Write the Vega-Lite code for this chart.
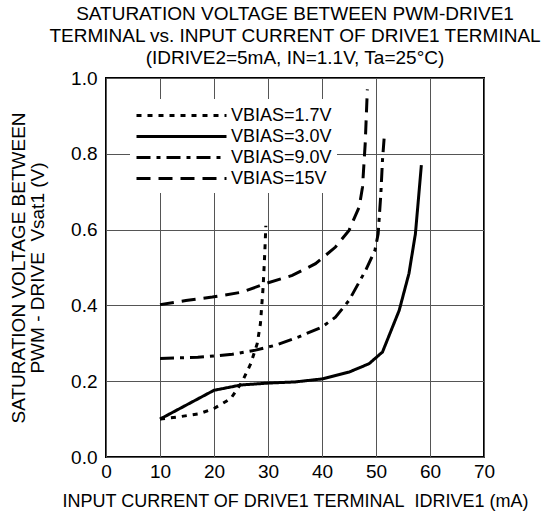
{
  "$schema": "https://vega.github.io/schema/vega-lite/v6.json",
  "width": 378,
  "height": 379,
  "autosize": {"type": "none"},
  "padding": {"left": 106, "top": 78, "right": 65, "bottom": 58},
  "background": "white",
  "config": {
    "font": "Liberation Sans",
    "view": {"stroke": "black", "strokeWidth": 2},
    "axis": {"labelColor": "black", "titleColor": "black", "labelFont": "Liberation Sans", "titleFont": "Liberation Sans", "titleFontWeight": "normal", "gridColor": "#555", "gridWidth": 1, "gridOpacity": 1, "domain": false, "ticks": false, "labelFlush": false}
  },
  "title": {
    "text": ["SATURATION VOLTAGE BETWEEN PWM-DRIVE1", "TERMINAL vs. INPUT CURRENT OF DRIVE1 TERMINAL", "(IDRIVE2=5mA, IN=1.1V, Ta=25°C)"],
    "anchor": "middle",
    "fontSize": 19,
    "fontWeight": "normal",
    "font": "Liberation Sans",
    "color": "black",
    "lineHeight": 22,
    "offset": 1
  },
  "data": {"values": [
    {"s": "VBIAS=1.7V", "I": 10, "V": 0.10},
    {"s": "VBIAS=1.7V", "I": 13.5, "V": 0.106},
    {"s": "VBIAS=1.7V", "I": 17.2, "V": 0.114},
    {"s": "VBIAS=1.7V", "I": 20, "V": 0.128},
    {"s": "VBIAS=1.7V", "I": 23.1, "V": 0.154},
    {"s": "VBIAS=1.7V", "I": 25.2, "V": 0.198},
    {"s": "VBIAS=1.7V", "I": 26.8, "V": 0.246},
    {"s": "VBIAS=1.7V", "I": 28, "V": 0.299},
    {"s": "VBIAS=1.7V", "I": 28.6, "V": 0.352},
    {"s": "VBIAS=1.7V", "I": 29.1, "V": 0.449},
    {"s": "VBIAS=1.7V", "I": 29.4, "V": 0.537},
    {"s": "VBIAS=1.7V", "I": 29.6, "V": 0.61},
    {"s": "VBIAS=3.0V", "I": 10, "V": 0.10},
    {"s": "VBIAS=3.0V", "I": 20, "V": 0.176},
    {"s": "VBIAS=3.0V", "I": 25, "V": 0.19},
    {"s": "VBIAS=3.0V", "I": 30, "V": 0.195},
    {"s": "VBIAS=3.0V", "I": 35, "V": 0.198},
    {"s": "VBIAS=3.0V", "I": 40, "V": 0.206},
    {"s": "VBIAS=3.0V", "I": 45, "V": 0.224},
    {"s": "VBIAS=3.0V", "I": 48.7, "V": 0.246},
    {"s": "VBIAS=3.0V", "I": 51.2, "V": 0.277},
    {"s": "VBIAS=3.0V", "I": 54.3, "V": 0.387},
    {"s": "VBIAS=3.0V", "I": 56.1, "V": 0.484},
    {"s": "VBIAS=3.0V", "I": 57.3, "V": 0.589},
    {"s": "VBIAS=3.0V", "I": 58.4, "V": 0.77},
    {"s": "VBIAS=9.0V", "I": 10, "V": 0.26},
    {"s": "VBIAS=9.0V", "I": 17, "V": 0.263},
    {"s": "VBIAS=9.0V", "I": 23.4, "V": 0.271},
    {"s": "VBIAS=9.0V", "I": 27.7, "V": 0.282},
    {"s": "VBIAS=9.0V", "I": 31.4, "V": 0.295},
    {"s": "VBIAS=9.0V", "I": 35.7, "V": 0.317},
    {"s": "VBIAS=9.0V", "I": 40, "V": 0.343},
    {"s": "VBIAS=9.0V", "I": 42.5, "V": 0.369},
    {"s": "VBIAS=9.0V", "I": 45, "V": 0.413},
    {"s": "VBIAS=9.0V", "I": 48.1, "V": 0.493},
    {"s": "VBIAS=9.0V", "I": 49.8, "V": 0.545},
    {"s": "VBIAS=9.0V", "I": 50.4, "V": 0.589},
    {"s": "VBIAS=9.0V", "I": 50.9, "V": 0.695},
    {"s": "VBIAS=9.0V", "I": 51.2, "V": 0.783},
    {"s": "VBIAS=9.0V", "I": 51.5, "V": 0.84},
    {"s": "VBIAS=15V", "I": 10, "V": 0.402},
    {"s": "VBIAS=15V", "I": 14.8, "V": 0.413},
    {"s": "VBIAS=15V", "I": 19.7, "V": 0.422},
    {"s": "VBIAS=15V", "I": 25.2, "V": 0.435},
    {"s": "VBIAS=15V", "I": 29.6, "V": 0.458},
    {"s": "VBIAS=15V", "I": 34.5, "V": 0.479},
    {"s": "VBIAS=15V", "I": 38.8, "V": 0.51},
    {"s": "VBIAS=15V", "I": 42.5, "V": 0.554},
    {"s": "VBIAS=15V", "I": 45, "V": 0.598},
    {"s": "VBIAS=15V", "I": 46.9, "V": 0.66},
    {"s": "VBIAS=15V", "I": 47.5, "V": 0.712},
    {"s": "VBIAS=15V", "I": 48, "V": 0.827},
    {"s": "VBIAS=15V", "I": 48.4, "V": 0.97}
  ]},
  "mark": {"type": "line", "color": "black", "strokeWidth": 3, "clip": true},
  "encoding": {
    "x": {
      "field": "I", "type": "quantitative",
      "scale": {"domain": [0, 70], "nice": false},
      "axis": {"values": [0, 10, 20, 30, 40, 50, 60, 70], "labelFontSize": 19, "labelPadding": 5, "title": "INPUT CURRENT OF DRIVE1 TERMINAL\u00a0\u00a0IDRIVE1 (mA)", "titleFontSize": 18, "titlePadding": 11}
    },
    "y": {
      "field": "V", "type": "quantitative",
      "scale": {"domain": [0, 1], "nice": false},
      "axis": {"values": [0, 0.2, 0.4, 0.6, 0.8, 1.0], "format": ".1f", "labelFontSize": 19, "labelPadding": 9, "title": ["SATURATION VOLTAGE BETWEEN", "PWM - DRIVE\u00a0\u00a0Vsat1 (V)"], "titleFontSize": 19, "titleLineHeight": 19, "titlePadding": 23}
    },
    "strokeDash": {
      "field": "s", "type": "nominal",
      "scale": {"domain": ["VBIAS=1.7V", "VBIAS=3.0V", "VBIAS=9.0V", "VBIAS=15V"], "range": [[5, 6], [1, 0], [14, 6, 4, 6], [14, 8]]},
      "legend": {
        "title": null, "orient": "none", "legendX": 24, "legendY": 21,
        "fillColor": "white", "padding": 5,
        "symbolType": "M-1,0H8", "symbolSize": 400, "symbolStrokeWidth": 3, "symbolStrokeColor": "black", "symbolFillColor": "transparent",
        "labelFontSize": 18, "labelColor": "black", "labelFont": "Liberation Sans", "labelOffset": 73, "rowPadding": 0
      }
    }
  }
}
